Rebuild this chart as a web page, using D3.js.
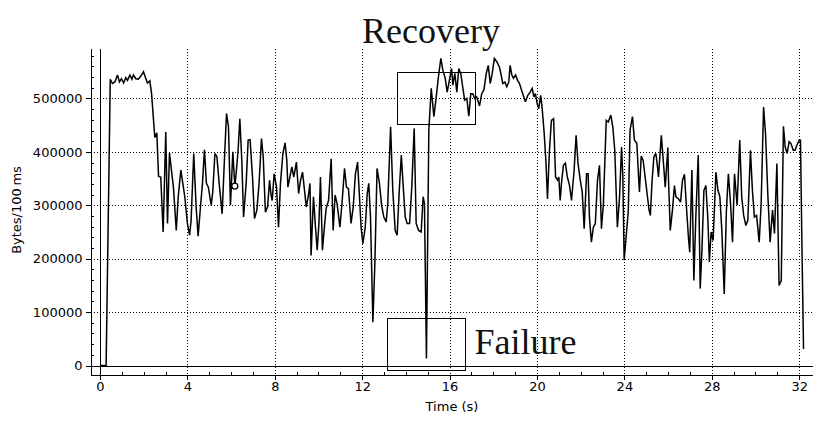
<!DOCTYPE html>
<html>
<head>
<meta charset="utf-8">
<script src="https://cdn.jsdelivr.net/npm/d3@7"></script>
<style>
  body { margin: 0; background: #fff; }
  svg { display: block; font-family: "DejaVu Sans", sans-serif; }
</style>
</head>
<body>
<svg id="chart" width="828" height="421"></svg>
<script>
// sample times (s) and throughput (bytes per 100 ms)
const times = [
  0.00, 0.28, 0.47, 0.57, 0.68, 0.80, 0.89, 0.98, 1.08, 1.18, 1.26, 1.37, 1.46, 1.53, 1.64, 1.75,
  1.87, 1.99, 2.10, 2.17, 2.28, 2.36, 2.45, 2.51, 2.60, 2.68, 2.78, 2.89, 3.01, 3.09, 3.18, 3.27,
  3.36, 3.49, 3.58, 3.70, 3.79, 3.88, 4.00, 4.10, 4.17, 4.29, 4.40, 4.49, 4.61, 4.69, 4.78, 4.87,
  4.96, 5.09, 5.16, 5.26, 5.35, 5.47, 5.59, 5.70, 5.79, 5.88, 5.97, 6.08, 6.17, 6.23, 6.32, 6.40,
  6.49, 6.57, 6.69, 6.78, 6.87, 6.98, 7.07, 7.18, 7.28, 7.39, 7.47, 7.57, 7.67, 7.76, 7.82, 7.88,
  7.97, 8.08, 8.17, 8.26, 8.37, 8.47, 8.55, 8.60, 8.69, 8.78, 8.87, 8.99, 9.09, 9.18, 9.27, 9.36,
  9.44, 9.53, 9.61, 9.66, 9.77, 9.85, 9.94, 10.02, 10.09, 10.18, 10.27, 10.35, 10.46, 10.58, 10.67, 10.76,
  10.85, 10.98, 11.08, 11.19, 11.28, 11.37, 11.49, 11.59, 11.69, 11.79, 11.86, 11.95, 12.03, 12.14, 12.23, 12.30,
  12.38, 12.49, 12.58, 12.68, 12.79, 12.89, 12.99, 13.10, 13.17, 13.30, 13.40, 13.51, 13.60, 13.69, 13.79, 13.88,
  13.97, 14.06, 14.17, 14.27, 14.38, 14.47, 14.58, 14.70, 14.79, 14.85, 14.94, 15.05, 15.16, 15.28, 15.39, 15.49,
  15.60, 15.69, 15.80, 15.89, 15.99, 16.09, 16.15, 16.24, 16.33, 16.42, 16.51, 16.60, 16.69, 16.79, 16.88, 16.97,
  17.06, 17.15, 17.24, 17.37, 17.47, 17.57, 17.68, 17.77, 17.86, 17.95, 18.05, 18.16, 18.28, 18.36, 18.43, 18.53,
  18.62, 18.71, 18.77, 18.85, 18.92, 19.02, 19.11, 19.20, 19.32, 19.40, 19.47, 19.58, 19.69, 19.78, 19.86, 19.93,
  20.02, 20.08, 20.17, 20.24, 20.33, 20.41, 20.48, 20.57, 20.66, 20.76, 20.85, 20.94, 21.00, 21.06, 21.12, 21.21,
  21.30, 21.39, 21.49, 21.58, 21.70, 21.79, 21.88, 21.98, 22.07, 22.16, 22.27, 22.34, 22.40, 22.49, 22.58, 22.67,
  22.77, 22.86, 22.95, 23.04, 23.17, 23.26, 23.38, 23.47, 23.56, 23.68, 23.78, 23.87, 23.93, 23.99, 24.08, 24.18,
  24.26, 24.37, 24.46, 24.57, 24.65, 24.69, 24.77, 24.86, 24.95, 25.04, 25.13, 25.19, 25.26, 25.35, 25.44, 25.50,
  25.56, 25.69, 25.78, 25.87, 25.99, 26.02, 26.10, 26.20, 26.29, 26.36, 26.48, 26.57, 26.66, 26.75, 26.84, 26.93,
  26.99, 27.09, 27.18, 27.27, 27.38, 27.47, 27.55, 27.64, 27.73, 27.82, 27.89, 27.97, 28.06, 28.19, 28.28, 28.37,
  28.46, 28.57, 28.67, 28.76, 28.86, 28.95, 29.04, 29.16, 29.28, 29.37, 29.46, 29.56, 29.65, 29.77, 29.86, 29.95,
  30.05, 30.17, 30.26, 30.37, 30.46, 30.57, 30.67, 30.78, 30.87, 30.98, 31.08, 31.18, 31.28, 31.36, 31.45, 31.54,
  31.62, 31.73, 31.81, 31.89, 32.00, 32.06, 32.12, 32.20
];
const bytes = [
  0, 0, 536000, 528000, 531000, 544000, 531000, 537000, 529000, 539000, 534000, 544000, 536000, 544000, 537000, 536000,
  542000, 550000, 537000, 529000, 533000, 509000, 459000, 427000, 436000, 354000, 353000, 250000, 437000, 266000, 398000, 366000,
  334000, 253000, 316000, 366000, 341000, 316000, 266000, 244000, 272000, 397000, 297000, 242000, 303000, 341000, 404000, 341000,
  334000, 300000, 325000, 397000, 391000, 334000, 284000, 391000, 472000, 447000, 300000, 400000, 336000, 359000, 403000, 462000,
  384000, 278000, 341000, 422000, 423000, 353000, 275000, 291000, 341000, 425000, 391000, 287000, 297000, 347000, 322000, 309000,
  359000, 334000, 259000, 341000, 397000, 417000, 384000, 334000, 353000, 372000, 353000, 381000, 322000, 347000, 362000, 328000,
  297000, 316000, 341000, 206000, 316000, 266000, 216000, 266000, 353000, 216000, 259000, 294000, 309000, 387000, 253000, 319000,
  303000, 259000, 306000, 369000, 334000, 331000, 266000, 297000, 359000, 381000, 328000, 259000, 228000, 259000, 322000, 341000,
  278000, 81000, 191000, 369000, 341000, 300000, 278000, 269000, 303000, 447000, 328000, 253000, 244000, 322000, 394000, 334000,
  278000, 266000, 266000, 334000, 444000, 266000, 253000, 250000, 316000, 303000, 13000, 441000, 519000, 466000, 503000, 541000,
  575000, 553000, 538000, 512000, 534000, 556000, 525000, 547000, 512000, 556000, 547000, 522000, 497000, 500000, 467000, 509000,
  509000, 500000, 503000, 486000, 509000, 516000, 547000, 562000, 528000, 547000, 575000, 569000, 559000, 544000, 528000, 531000,
  522000, 531000, 562000, 544000, 538000, 544000, 534000, 528000, 512000, 503000, 494000, 506000, 512000, 519000, 503000, 509000,
  488000, 481000, 506000, 480000, 435000, 381000, 312000, 403000, 459000, 462000, 353000, 347000, 353000, 309000, 341000, 375000,
  379000, 353000, 337000, 309000, 366000, 431000, 378000, 347000, 325000, 256000, 359000, 359000, 278000, 231000, 259000, 266000,
  347000, 375000, 256000, 303000, 459000, 456000, 469000, 447000, 403000, 259000, 316000, 409000, 353000, 197000, 241000, 290000,
  441000, 466000, 422000, 416000, 353000, 325000, 392000, 384000, 353000, 322000, 291000, 281000, 341000, 391000, 397000, 378000,
  353000, 431000, 384000, 334000, 408000, 347000, 253000, 291000, 337000, 316000, 312000, 306000, 347000, 358000, 297000, 241000,
  212000, 366000, 159000, 278000, 394000, 144000, 216000, 328000, 337000, 275000, 194000, 250000, 234000, 362000, 328000, 316000,
  253000, 134000, 291000, 359000, 303000, 231000, 359000, 300000, 422000, 316000, 281000, 262000, 272000, 403000, 328000, 278000,
  281000, 231000, 303000, 484000, 434000, 316000, 231000, 291000, 247000, 378000, 150000, 159000, 448000, 409000, 397000, 419000,
  416000, 403000, 403000, 412000, 422000, 422000, 241000, 31000
];

const xTicks = [0, 4, 8, 12, 16, 20, 24, 28, 32];
const xMinor = [1, 2, 3, 5, 6, 7, 9, 10, 11, 13, 14, 15, 17, 18, 19, 21, 22, 23, 25, 26, 27, 29, 30, 31];
const yTicks = [0, 100000, 200000, 300000, 400000, 500000];
const yMinor = d3.range(-0, 590000, 20000).filter(d => d % 100000 != 0);

// cursor marker left on the trace
const marker = { t: 6.17, v: 336000 };

// callouts drawn over the trace (data units)
const notes = [
  { text: 'Recovery', t: 15.15, v: 604000, anchor: 'middle' },
  { text: 'Failure', t: 17.14, v: 22000, anchor: 'start' }
];
const boxes = [
  { t0: 13.60, t1: 17.17, v0: 453000, v1: 550000 },
  { t0: 13.13, t1: 16.70, v0: -9400, v1: 88500 }
];

var svg = d3.select('#chart');

var x = d3.scaleLinear().domain([-0.435, 32.61]).range([90.5, 812.5]);
var y = d3.scaleLinear().domain([-16850, 593600]).range([374.5, 48.5]);

var grid = svg.append('g')
  .attr('stroke', '#000')
  .attr('stroke-width', 1)
  .attr('stroke-dasharray', '1,2')
  .attr('shape-rendering', 'crispEdges');

grid.selectAll('.vgrid')
  .data(xTicks.filter(d => d != 0)).enter().append('line')
  .attr('x1', d => Math.round(x(d)) + 0.5)
  .attr('x2', d => Math.round(x(d)) + 0.5)
  .attr('y1', y.range()[1])
  .attr('y2', y.range()[0]);

grid.selectAll('.hgrid')
  .data(yTicks.filter(d => d != 0)).enter().append('line')
  .attr('x1', x.range()[0])
  .attr('x2', x.range()[1])
  .attr('y1', d => Math.round(y(d)) + 0.5)
  .attr('y2', d => Math.round(y(d)) + 0.5);

// zero lines
svg.append('line')
  .attr('x1', x.range()[0]).attr('x2', x.range()[1])
  .attr('y1', Math.round(y(0)) + 0.5).attr('y2', Math.round(y(0)) + 0.5)
  .attr('stroke', '#000').attr('shape-rendering', 'crispEdges');
svg.append('line')
  .attr('x1', Math.round(x(0)) + 0.5).attr('x2', Math.round(x(0)) + 0.5)
  .attr('y1', y.range()[1]).attr('y2', y.range()[0])
  .attr('stroke', '#000').attr('shape-rendering', 'crispEdges');

// axes
var xAxis = svg.append('g')
  .attr('transform', `translate(0,${y.range()[0]})`)
  .call(d3.axisBottom(x).tickValues(xTicks).tickSize(5).tickSizeOuter(0).tickPadding(2).tickFormat(d3.format('d')));
svg.append('g')
  .attr('transform', `translate(0,${y.range()[0]})`)
  .call(d3.axisBottom(x).tickValues(xMinor).tickSize(-3).tickSizeOuter(0).tickFormat(''))
  .select('.domain').remove();

var yAxis = svg.append('g')
  .attr('transform', `translate(${x.range()[0]},0)`)
  .call(d3.axisLeft(y).tickValues(yTicks).tickSize(5).tickSizeOuter(0).tickPadding(3).tickFormat(d3.format('d')));
svg.append('g')
  .attr('transform', `translate(${x.range()[0]},0)`)
  .call(d3.axisLeft(y).tickValues(yMinor).tickSize(-3).tickSizeOuter(0).tickFormat(''))
  .select('.domain').remove();

svg.selectAll('.tick text')
  .attr('font-family', '"DejaVu Sans", sans-serif')
  .attr('font-size', 13)
  .attr('fill', '#000');
svg.selectAll('.domain, .tick line')
  .attr('shape-rendering', 'crispEdges');

svg.append('text')
  .attr('x', 452)
  .attr('y', 410.5)
  .attr('text-anchor', 'middle')
  .attr('font-size', 13)
  .text('Time (s)');

svg.append('text')
  .attr('transform', 'translate(21,210) rotate(-90)')
  .attr('text-anchor', 'middle')
  .attr('font-size', 13)
  .text('Bytes/100\u2009ms');

// throughput trace
var line = d3.line()
  .x((d, i) => x(times[i]))
  .y(d => y(d));

svg.append('path')
  .datum(bytes)
  .attr('d', line)
  .attr('fill', 'none')
  .attr('stroke', '#000')
  .attr('stroke-width', 1.5)
  .attr('stroke-linejoin', 'miter')
  .attr('stroke-miterlimit', 3);

svg.append('circle')
  .attr('cx', x(marker.t))
  .attr('cy', y(marker.v))
  .attr('r', 3)
  .attr('fill', '#fff')
  .attr('stroke', '#000')
  .attr('stroke-width', 1.3);

// callouts
svg.append('g').selectAll('rect')
  .data(boxes).enter().append('rect')
  .attr('x', d => Math.round(x(d.t0)) + 0.5)
  .attr('y', d => Math.round(y(d.v1)) + 0.5)
  .attr('width', d => Math.round(x(d.t1) - x(d.t0)))
  .attr('height', d => Math.round(y(d.v0) - y(d.v1)))
  .attr('fill', 'none')
  .attr('stroke', '#000')
  .attr('stroke-width', 1)
  .attr('shape-rendering', 'crispEdges');

svg.append('g').selectAll('text')
  .data(notes).enter().append('text')
  .attr('x', d => x(d.t))
  .attr('y', d => y(d.v))
  .attr('text-anchor', d => d.anchor)
  .attr('font-family', '"Liberation Serif", "Times New Roman", serif')
  .attr('font-size', 36)
  .attr('fill', '#111')
  .text(d => d.text);
</script>
</body>
</html>
